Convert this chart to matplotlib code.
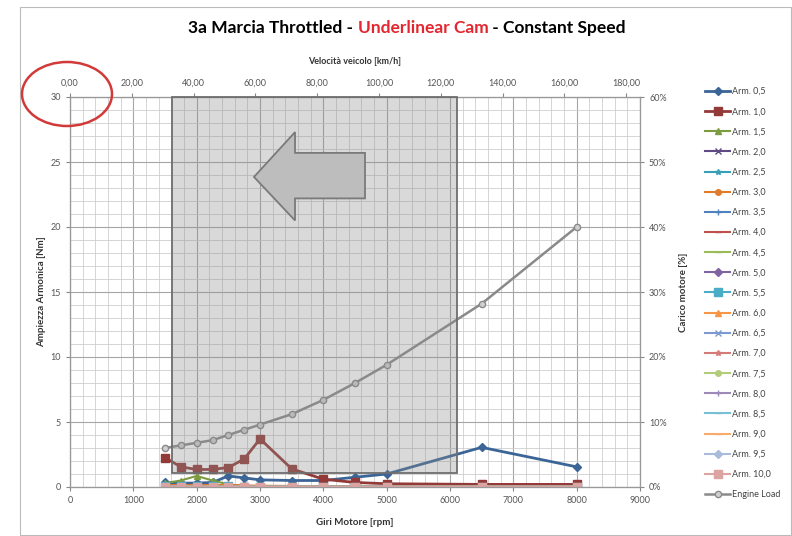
import matplotlib.pyplot as plt
from matplotlib.patches import Rectangle, Polygon, Ellipse
from matplotlib.ticker import MultipleLocator, FuncFormatter

plt.rcParams['font.family'] = ['Lato', 'DejaVu Sans']

# dati
rpm = [1500, 1750, 2000, 2250, 2500, 2750, 3000, 3500, 4000, 4500, 5000, 6500, 8000]

arm_05 = [0.35, 0.3, 0.3, 0.35, 0.85, 0.7, 0.55, 0.5, 0.5, 0.75, 1.0, 3.05, 1.55]
arm_10 = [2.25, 1.55, 1.35, 1.35, 1.5, 2.15, 3.7, 1.4, 0.6, 0.35, 0.25, 0.2, 0.2]
arm_15 = [0.3, 0.5, 0.85, 0.5, 0.2, 0.08, 0.05, 0.04, 0.03, 0.03, 0.03, 0.03, 0.03]
arm_20 = [0.12, 0.15, 0.2, 0.15, 0.1, 0.08, 0.06, 0.05, 0.05, 0.05, 0.05, 0.04, 0.04]
arm_25 = [0.08, 0.1, 0.12, 0.1, 0.08, 0.06, 0.05, 0.04, 0.04, 0.04, 0.04, 0.03, 0.03]
arm_30 = [0.15, 0.15, 0.15, 0.15, 0.15, 0.12, 0.1, 0.08, 0.06, 0.05, 0.05, 0.04, 0.04]
arm_35 = [0.06, 0.07, 0.08, 0.07, 0.06, 0.05, 0.05, 0.04, 0.04, 0.04, 0.03, 0.03, 0.03]
arm_40 = [0.05, 0.06, 0.07, 0.06, 0.05, 0.05, 0.04, 0.04, 0.03, 0.03, 0.03, 0.03, 0.03]
arm_45 = [0.05, 0.05, 0.06, 0.05, 0.05, 0.04, 0.04, 0.03, 0.03, 0.03, 0.03, 0.03, 0.03]
arm_50 = [0.04, 0.05, 0.05, 0.05, 0.04, 0.04, 0.03, 0.03, 0.03, 0.03, 0.03, 0.02, 0.02]
arm_55 = [0.04, 0.04, 0.05, 0.04, 0.04, 0.03, 0.03, 0.03, 0.03, 0.02, 0.02, 0.02, 0.02]
arm_60 = [0.04, 0.04, 0.04, 0.04, 0.03, 0.03, 0.03, 0.03, 0.02, 0.02, 0.02, 0.02, 0.02]
arm_65 = [0.03, 0.04, 0.04, 0.03, 0.03, 0.03, 0.03, 0.02, 0.02, 0.02, 0.02, 0.02, 0.02]
arm_70 = [0.03, 0.03, 0.04, 0.03, 0.03, 0.03, 0.02, 0.02, 0.02, 0.02, 0.02, 0.02, 0.02]
arm_75 = [0.03, 0.03, 0.03, 0.03, 0.03, 0.02, 0.02, 0.02, 0.02, 0.02, 0.02, 0.02, 0.02]
arm_80 = [0.03, 0.03, 0.03, 0.03, 0.02, 0.02, 0.02, 0.02, 0.02, 0.02, 0.02, 0.02, 0.02]
arm_85 = [0.02, 0.03, 0.03, 0.02, 0.02, 0.02, 0.02, 0.02, 0.02, 0.02, 0.02, 0.02, 0.02]
arm_90 = [0.02, 0.02, 0.03, 0.02, 0.02, 0.02, 0.02, 0.02, 0.02, 0.02, 0.02, 0.02, 0.02]
arm_95 = [0.02, 0.02, 0.02, 0.02, 0.02, 0.02, 0.02, 0.02, 0.02, 0.02, 0.02, 0.02, 0.02]
arm_100 = [0.02, 0.02, 0.02, 0.02, 0.02, 0.02, 0.02, 0.02, 0.02, 0.02, 0.02, 0.02, 0.02]

carico = [6.0, 6.4, 6.8, 7.2, 8.0, 8.8, 9.6, 11.2, 13.4, 16.0, 18.8, 28.2, 40.0]  # %

etichette = ['Arm. 0,5', 'Arm. 1,0', 'Arm. 1,5', 'Arm. 2,0', 'Arm. 2,5', 'Arm. 3,0', 'Arm. 3,5',
             'Arm. 4,0', 'Arm. 4,5', 'Arm. 5,0', 'Arm. 5,5', 'Arm. 6,0', 'Arm. 6,5', 'Arm. 7,0',
             'Arm. 7,5', 'Arm. 8,0', 'Arm. 8,5', 'Arm. 9,0', 'Arm. 9,5', 'Arm. 10,0']
serie = [arm_05, arm_10, arm_15, arm_20, arm_25, arm_30, arm_35, arm_40, arm_45, arm_50,
         arm_55, arm_60, arm_65, arm_70, arm_75, arm_80, arm_85, arm_90, arm_95, arm_100]
colori = ['#3B6596', '#933A38', '#7D9B3F', '#5F4A86', '#37A0B8', '#E07B2C', '#4F81BD',
          '#C0504D', '#9BBB59', '#8064A2', '#4BACC6', '#F79646', '#7C9ACF', '#D47A78',
          '#B2CC7A', '#9E8AB9', '#78C0D4', '#F9AB6B', '#A9BADB', '#DBA3A2']
marcatori = ['D', 's', '^', 'x', '*', 'o', '+', '_', '_',
             'D', 's', '^', 'x', '*', 'o', '+', '_', '_', 'D', 's']

tick_col = '#555555'

fig = plt.figure(figsize=(7.92, 5.36), dpi=100)
ax = fig.add_axes([70/792, 49/536, 570/792, 390/536])

for y, lab, c, m in zip(serie, etichette, colori, marcatori):
    ms = 6 if m == 's' else 4
    ax.plot(rpm, y, color=c, lw=2 if lab in ('Arm. 0,5', 'Arm. 1,0') else 1.5,
            marker=m, ms=ms, mfc=c, mec=c, label=lab, zorder=3)

ax.set_xlim(0, 9000)
ax.set_ylim(0, 30)
ax.xaxis.set_major_locator(MultipleLocator(1000))
ax.xaxis.set_minor_locator(MultipleLocator(200))
ax.yaxis.set_major_locator(MultipleLocator(5))
ax.yaxis.set_minor_locator(MultipleLocator(1))
ax.grid(which='major', color='#A6A6A6', lw=0.8)
ax.grid(which='minor', color='#CFCFCF', lw=0.6)
ax.set_axisbelow(True)
ax.tick_params(which='both', labelsize=6.5, colors='#888888', labelcolor=tick_col, length=3)
ax.tick_params(which='minor', length=0)
ax.set_xlabel('Giri Motore [rpm]', fontsize=7, fontweight='bold', color='#333333', labelpad=9)
ax.set_ylabel('Ampiezza Armonica [Nm]', fontsize=7, fontweight='bold', color='#333333', labelpad=3)
for s in ax.spines.values():
    s.set_color('#999999')

ax2 = ax.twinx()
ax2.plot(rpm, carico, color='#8A8A8A', lw=1.8, marker='o', ms=4.5, mfc='#D0D0D0', mec='#8A8A8A',
         label='Engine Load', zorder=3)
ax2.set_ylim(0, 60)
ax2.yaxis.set_major_locator(MultipleLocator(10))
ax2.yaxis.set_major_formatter(FuncFormatter(lambda v, p: f'{v:.0f}%'))
ax2.tick_params(labelsize=6.5, colors='#888888', labelcolor=tick_col, length=3)
ax2.set_ylabel('Carico motore [%]', fontsize=7, fontweight='bold', color='#333333', labelpad=9)

ax3 = ax.twiny()
ax3.set_xlim(0, 184.5)
ax3.xaxis.set_major_locator(MultipleLocator(20))
ax3.xaxis.set_major_formatter(FuncFormatter(lambda v, p: f'{v:.2f}'.replace('.', ',')))
ax3.tick_params(labelsize=6.5, colors='#888888', labelcolor=tick_col, length=3)
ax3.set_xlabel('Velocità veicolo [km/h]', fontsize=6.5, fontweight='bold', color='#333333', labelpad=11)
for a in (ax2, ax3):
    for s in a.spines.values():
        s.set_color('#999999')

# riquadro grigio e freccia (forme disegnate sopra il grafico)
fig.add_artist(Rectangle((1610, 1.05), 6110 - 1610, 28.95, transform=ax.transData,
                         facecolor='#8C8C8C', alpha=0.33, edgecolor='none', zorder=5))
fig.add_artist(Rectangle((1610, 1.05), 6110 - 1610, 28.95, transform=ax.transData,
                         facecolor='none', edgecolor='#6E6E6E', lw=1.3, zorder=5))
freccia = [(2905, 23.85), (3553, 27.3), (3553, 25.7), (4658, 25.7),
           (4658, 22.2), (3553, 22.2), (3553, 20.5)]
fig.add_artist(Polygon(freccia, closed=True, transform=ax.transData,
                       facecolor='#BDBDBD', edgecolor='#7A7A7A', lw=1.3, zorder=6))
fig.add_artist(Ellipse((67/792, 1 - 94/536), 90/792, 64/536, transform=fig.transFigure,
                       facecolor='none', edgecolor='#D23A3A', lw=1.8, zorder=7))

# bordo area grafico
fig.add_artist(Rectangle((20/792, 0.002), 771/792, 1 - 7/536 - 0.002, transform=fig.transFigure,
                         facecolor='none', edgecolor='#BBBBBB', lw=0.8, zorder=0))

# legenda
handles = ax.get_lines() + ax2.get_lines()
fig.legend(handles, [h.get_label() for h in handles], loc='upper left',
           bbox_to_anchor=(697/792, 1 - 79/536), frameon=False, fontsize=6.5,
           labelspacing=1.235, handlelength=2.8, handletextpad=0.15, labelcolor='#444444')

# titolo a più colori
fig.canvas.draw()
r = fig.canvas.get_renderer()
parti = [('3a Marcia Throttled - ', 'black'), ('Underlinear Cam', '#E3262F'),
         (' - Constant Speed', 'black')]
testi = [fig.text(0, 1 - 28/536, t, color=c, fontsize=12.5, fontweight='bold', va='center')
         for t, c in parti]
larg = [t.get_window_extent(r).width for t in testi]
x = 407 - sum(larg) / 2
for t, w in zip(testi, larg):
    t.set_x(x / 792)
    x += w

fig.savefig('out.png', dpi=100)
